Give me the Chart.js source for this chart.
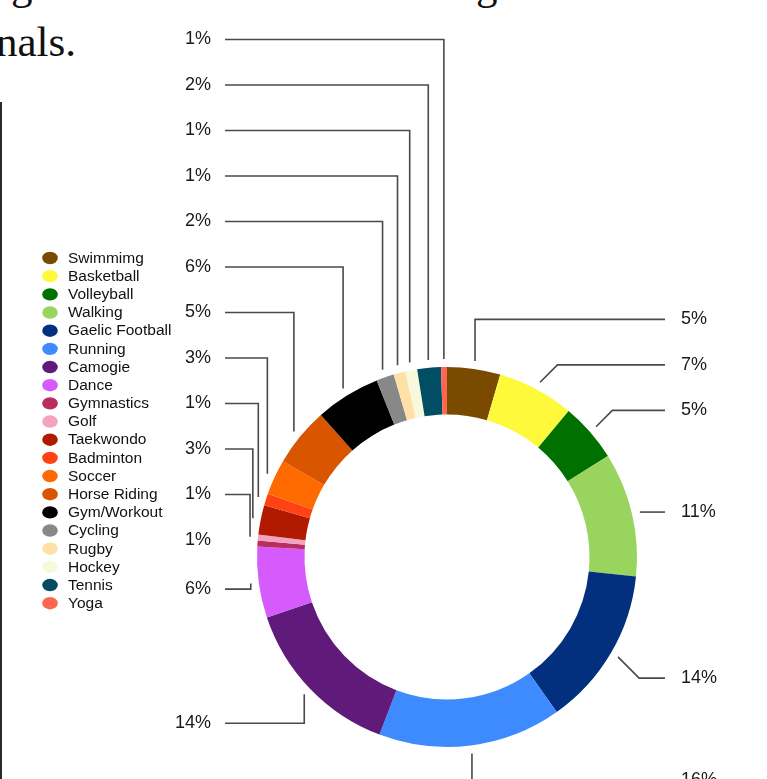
<!DOCTYPE html>
<html>
<head>
<meta charset="utf-8">
<script src="https://cdn.jsdelivr.net/npm/chart.js@4"></script>
<style>
html,body{margin:0;padding:0;background:#fff;}
body{position:relative;width:767px;height:779px;overflow:hidden;}
#c{position:absolute;left:0;top:0;}
.hd{position:absolute;font-family:'Liberation Serif','DejaVu Serif',serif;color:#111;white-space:nowrap;font-size:43px;line-height:43px;}
.vline{position:absolute;left:0;top:102px;width:2px;height:677px;background:#2a2a2a;}
</style>
</head>
<body>
<div class="hd" style="left:11px;top:-37px;">g</div>
<div class="hd" style="left:476px;top:-37px;">g</div>
<div class="hd" style="right:691px;top:20px;">signals.</div>
<div class="vline"></div>
<canvas id="c" width="767" height="779"></canvas>
<script>
// ---- data ----
const categories = ['Swimmimg','Basketball','Volleyball','Walking','Gaelic Football','Running','Camogie','Dance','Gymnastics','Golf','Taekwondo','Badminton','Soccer','Horse Riding','Gym/Workout','Cycling','Rugby','Hockey','Tennis','Yoga'];
const counts = [9,13,10,21,27,31,28,12,1,1,5,2,6,10,11,3,2,2,4,1];
const colors = ['#7a4a00','#fff93c','#007000','#99d45f','#02307e','#3d8bff','#5f1a7a','#d55bfd','#b82e61','#f3a2c0','#b21a00','#ff4214','#ff6a00','#d95500','#000000','#888888','#ffe0a6','#f6f9dc','#004d64','#ff6650'];

const total = counts.reduce((a, b) => a + b, 0);
const pctLabels = counts.map(v => Math.round(v / total * 100) + '%');

const legendPlugin = {
  id: 'sideLegend',
  afterDraw(chart) {
    const ctx = chart.ctx;
    ctx.save();
    ctx.font = '15.5px "Liberation Sans", Arial, sans-serif';
    ctx.textBaseline = 'middle';
    ctx.textAlign = 'left';
    categories.forEach((name, i) => {
      const y = 258 + i * 18.17;
      ctx.fillStyle = colors[i];
      ctx.beginPath();
      ctx.ellipse(50, y, 7.8, 6.2, 0, 0, Math.PI * 2);
      ctx.fill();
      ctx.fillStyle = '#111';
      ctx.fillText(name, 68, y + 0.5);
    });
    ctx.restore();
  }
};

const calloutPlugin = {
  id: 'callouts',
  afterDatasetsDraw(chart) {
    const meta = chart.getDatasetMeta(0);
    const ctx = chart.ctx;
    const area = chart.chartArea;
    const items = meta.data.map((arc, i) => {
      const p = arc.getProps(['x', 'y', 'startAngle', 'endAngle', 'outerRadius'], true);
      const mid = (p.startAngle + p.endAngle) / 2;
      const ra = p.outerRadius + 8;
      const rl = p.outerRadius + 50;
      return {
        i, ax: p.x + ra * Math.cos(mid), ay: p.y + ra * Math.sin(mid),
        ny: p.y + rl * Math.sin(mid), left: Math.cos(mid) < 0, text: pctLabels[i]
      };
    });
    const gap = 45.5;
    const left = items.filter(d => d.left).sort((a, b) => a.ny - b.ny);
    const right = items.filter(d => !d.left).sort((a, b) => a.ny - b.ny);
    for (let k = left.length - 1; k >= 0; k--) {
      let y = left[k].ny;
      if (k < left.length - 1) y = Math.min(y, left[k + 1].ly - gap);
      left[k].ly = y;
    }
    for (let k = 0; k < right.length; k++) {
      let y = right[k].ny;
      if (k > 0) y = Math.max(y, right[k - 1].ly + gap);
      if (Math.abs(y - right[k].ay) < 12) y = right[k].ay;
      right[k].ly = Math.min(y, chart.height + 1);
    }
    const lLine = area.left - 32, lText = area.left - 46;
    const rLine = area.right + 28, rText = area.right + 44;
    ctx.save();
    ctx.strokeStyle = '#4a4a4a';
    ctx.lineWidth = 1.6;
    ctx.font = '18px "Liberation Sans", Arial, sans-serif';
    ctx.fillStyle = '#1a1a1a';
    ctx.textBaseline = 'middle';
    left.forEach(d => {
      if (Math.abs(d.ly - d.ay) >= 5) {
        ctx.beginPath();
        ctx.moveTo(d.ax, d.ay);
        ctx.lineTo(d.ax, d.ly);
        ctx.lineTo(lLine, d.ly);
        ctx.stroke();
      }
      ctx.textAlign = 'right';
      ctx.fillText(d.text, lText, d.ly);
    });
    right.forEach(d => {
      const dy = d.ly - d.ay;
      const bx = Math.abs(dy) <= 25 ? d.ax + Math.abs(dy) : d.ax;
      ctx.beginPath();
      ctx.moveTo(d.ax, d.ay);
      ctx.lineTo(bx, d.ly);
      ctx.lineTo(rLine, d.ly);
      ctx.stroke();
      ctx.textAlign = 'left';
      ctx.fillText(d.text, rText, d.ly);
    });
    ctx.restore();
  }
};

new Chart(document.getElementById('c'), {
  type: 'doughnut',
  data: {
    labels: categories,
    datasets: [{ data: counts, backgroundColor: colors, borderWidth: 0, hoverOffset: 0 }]
  },
  options: {
    responsive: false,
    animation: false,
    devicePixelRatio: 1,
    cutout: '75%',
    layout: { padding: { left: 257, right: 130, top: 367, bottom: 32 } },
    plugins: { legend: { display: false }, tooltip: { enabled: false } },
    events: []
  },
  plugins: [calloutPlugin, legendPlugin]
});
</script>
</body>
</html>
